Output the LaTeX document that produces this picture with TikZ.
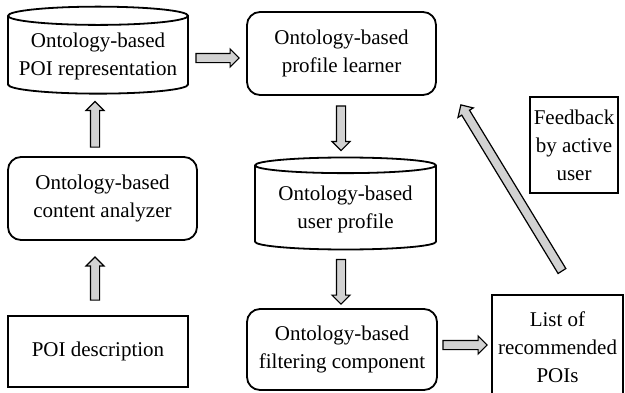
\documentclass[tikz,border=0pt]{standalone}
\usepackage{fontspec}
\setmainfont{Liberation Serif}
\usetikzlibrary{positioning, calc, shapes.geometric}
\tikzset{
  box/.style={draw, line width=0.9pt, align=center, inner sep=2pt,
              font=\fontsize{10.5}{14}\selectfont},
  rbox/.style={box, rounded corners=6.5pt},
  store/.style={box, cylinder, shape border rotate=90, aspect=0.11},
  fat/.style={draw, line width=0.6pt, fill=gray!35, line join=miter,
    to path={let \p1=(\tikztostart), \p2=(\tikztotarget),
      \n1={atan2(\y2-\y1,\x2-\x1)}, \n2={veclen(\x2-\x1,\y2-\y1)} in
      (\p1) ++({\n1+90}:2.3pt) -- ++(\n1:{\n2*1pt-4.5pt}) -- ++({\n1+90}:2.2pt)
      -- (\p2) -- ($(\p2)+({\n1+180}:4.5pt)+({\n1-90}:4.5pt)$) -- ++({\n1+90}:2.2pt)
      -- ++({\n1+180}:{\n2*1pt-4.5pt}) -- cycle}},
}

\begin{document}
\begin{tikzpicture}[x=0.5pt, y=-0.5pt]
  \useasboundingbox (0,0) rectangle (625,392);

  % left column
  \node[store, minimum width=90pt, minimum height=43.5pt] (rep) at (98,56.5)
    {Ontology-based\\POI representation};
  \node[rbox, minimum width=94.5pt, minimum height=41.5pt] (anal) at (102.5,198.5)
    {Ontology-based\\content analyzer};
  \node[box, minimum width=90pt, minimum height=35.5pt] (desc) at (98,351.5)
    {POI description};

  % middle column
  \node[rbox, minimum width=94.5pt, minimum height=41.5pt] (learn) at (341.5,53.5)
    {Ontology-based\\profile learner};
  \node[store, minimum width=90.5pt, minimum height=46pt] (prof) at (345.5,209)
    {Ontology-based\\user profile};
  \node[rbox, minimum width=95pt, minimum height=40.5pt] (filt) at (342,349.5)
    {Ontology-based\\filtering component};

  % right column
  \node[box, minimum width=65.5pt, minimum height=52.5pt] (list) at (557.5,347.5)
    {List of\\recommended\\POIs};
  \node[box, minimum width=44pt, minimum height=48pt] (fb) at (574,145)
    {Feedback\\by active\\user};

  \draw[fat] ([xshift=3.5pt, yshift=-0.75pt]rep.east) to ([xshift=-3.5pt, yshift=-2.25pt]learn.west);
  \draw[fat] ([xshift=-3.75pt, yshift=4.5pt]anal.north) to ([xshift=-1.5pt, yshift=-3.5pt]rep.south);
  \draw[fat] ([xshift=-1.5pt, yshift=7.5pt]desc.north) to ([xshift=-3.75pt, yshift=-8pt]anal.south);
  \draw[fat] ([xshift=-0.25pt, yshift=-5pt]learn.south) to ([xshift=-2.25pt, yshift=3pt]prof.north);
  \draw[fat] ([xshift=-2.25pt, yshift=-4.5pt]prof.south) to ([xshift=-0.5pt, yshift=2pt]filt.north);
  \draw[fat] ([xshift=2.5pt, yshift=2.25pt]filt.east) to ([xshift=-2pt, yshift=1.25pt]list.west);
  \draw[fat] ([xshift=2.25pt, yshift=11.5pt]list.north) to ([xshift=12pt, yshift=-4.5pt]learn.south east);
\end{tikzpicture}
\end{document}
